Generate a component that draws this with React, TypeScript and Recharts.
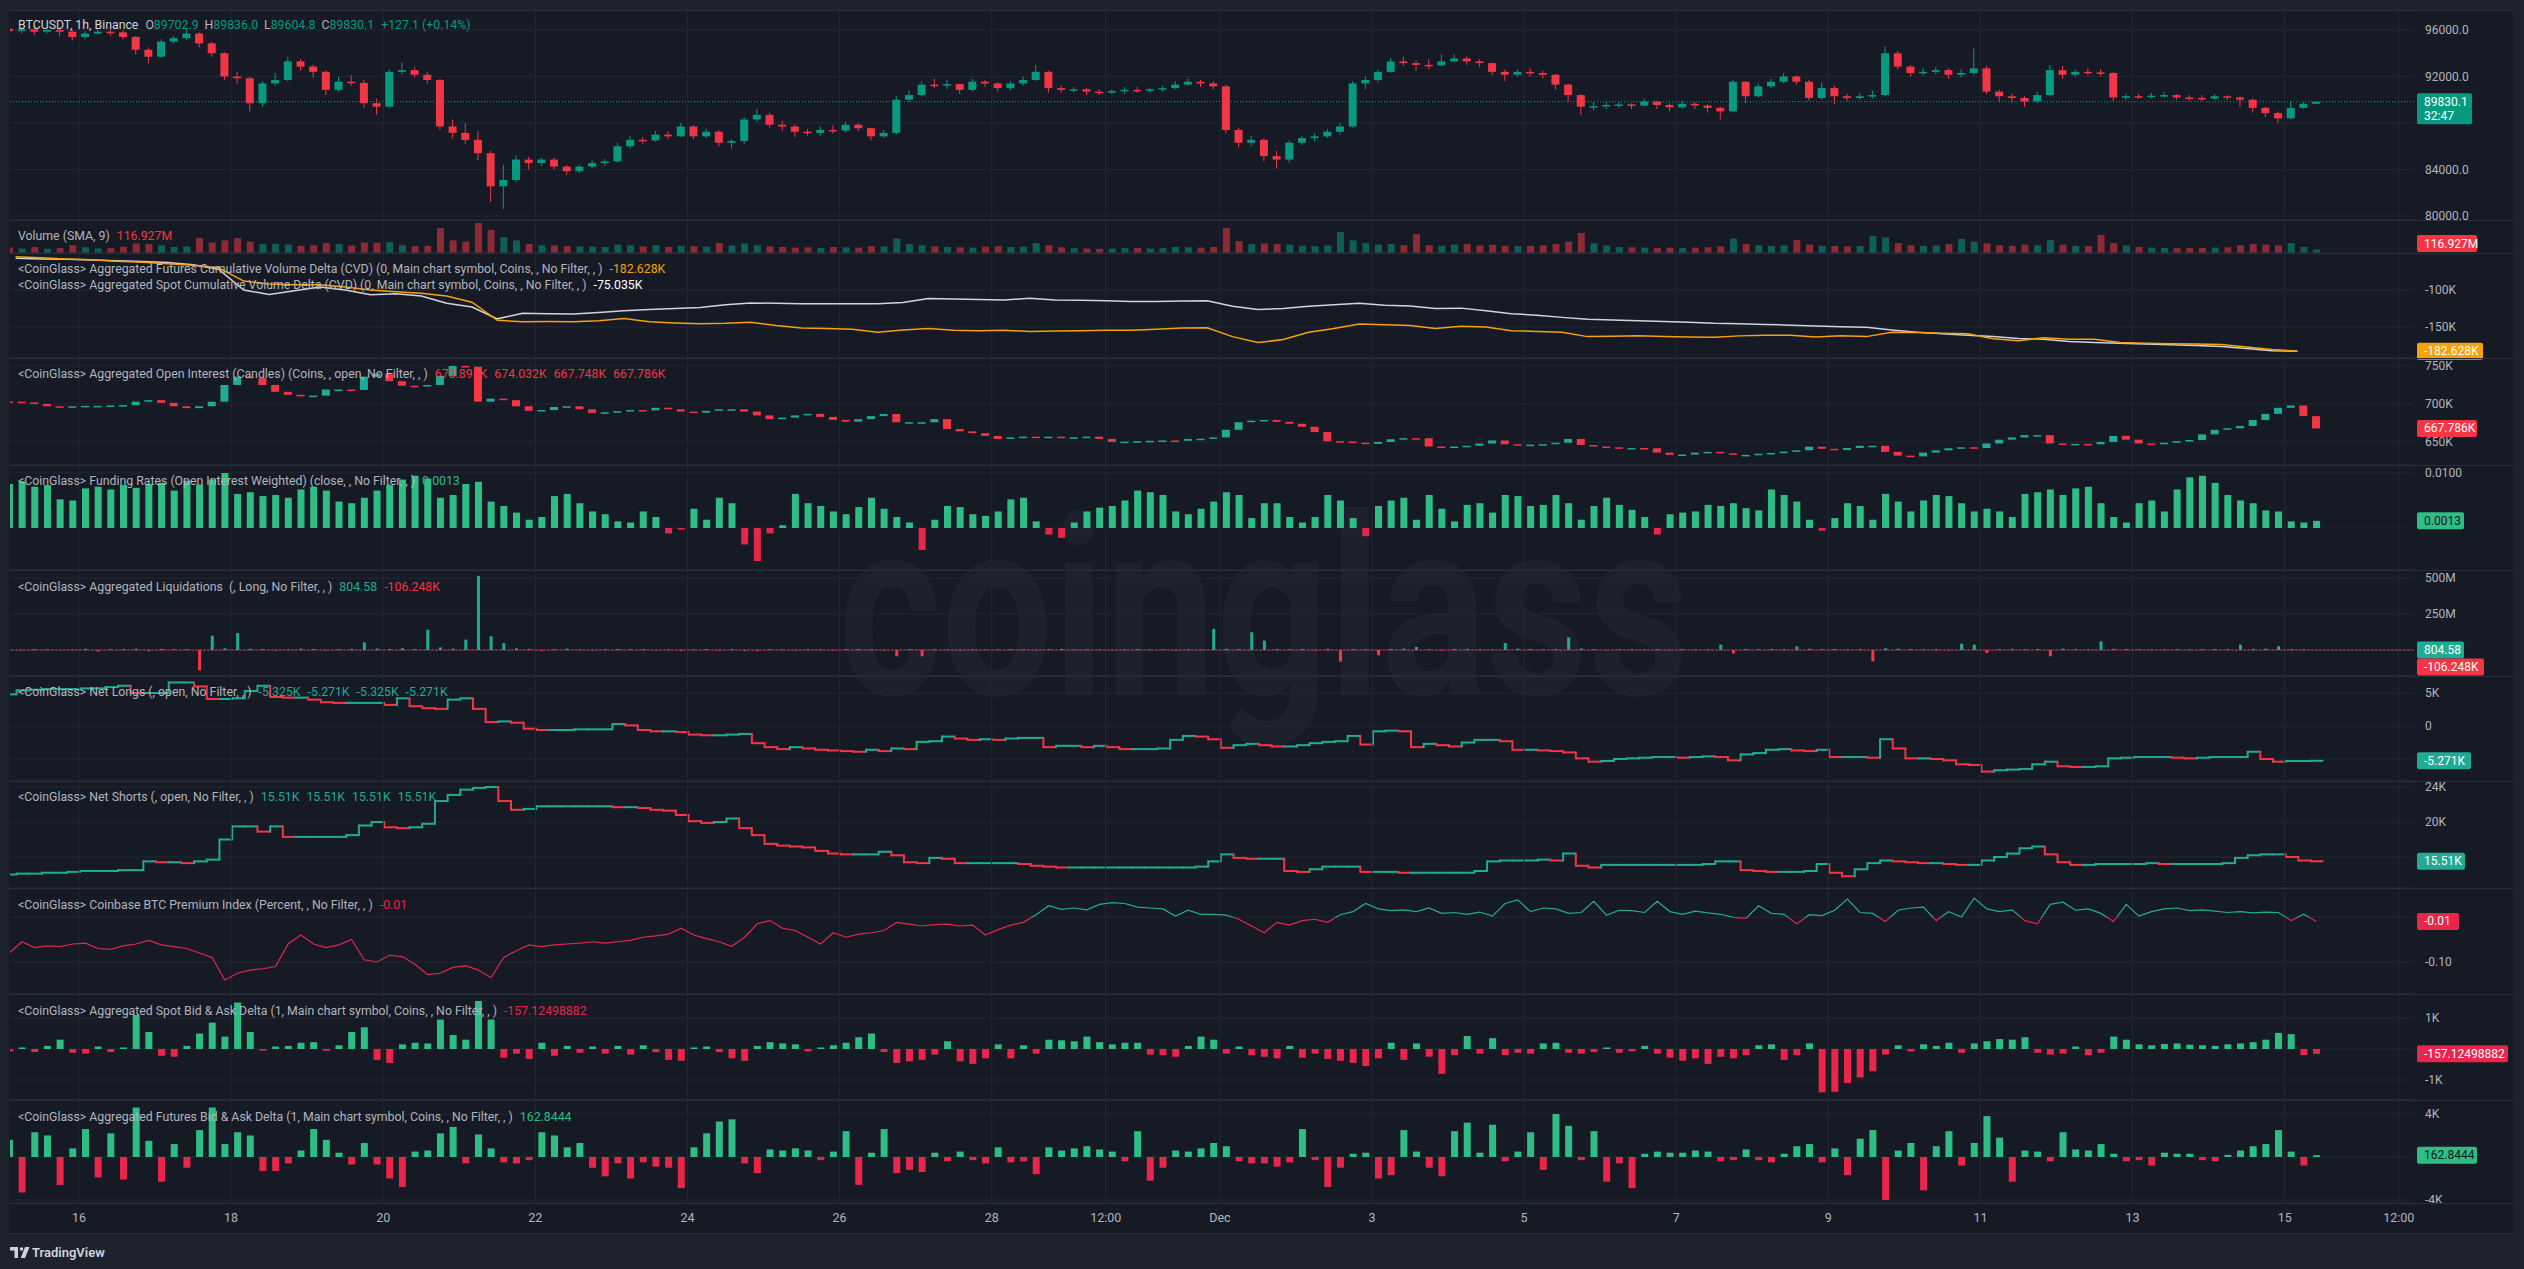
import React from 'react';
import { ComposedChart, Bar, Line, XAxis, YAxis, CartesianGrid, ReferenceLine, Cell } from 'recharts';

const FONT = "Roboto, 'Liberation Sans', Arial, sans-serif";
const BG = '#161a25';
const FRAME = '#1e222d';
const GRID = '#232733';
const SEP = '#2a2e39';
const TEXT = '#b2b5be';
const UP = '#089981';
const DOWN = '#f23645';
const BAR_UP = '#2ebd85';
const BAR_DOWN = '#e8254a';
const STEP_UP = '#22ab94';
const CVD_ORANGE = '#f7a10c';

const CHART_W = 2513;
const PLOT_L = 10;
const AXIS_W = 99;
const X_DOMAIN = [2.23, 760.8];

// hours since Nov 15 00:00
const DAY_TICKS = [24, 72, 120, 168, 216, 264, 312, 348, 384, 432, 480, 528, 576, 624, 672, 720, 756];
const DAY_LABELS = ['16', '18', '20', '22', '24', '26', '28', '12:00', 'Dec', '3', '5', '7', '9', '11', '13', '15', '12:00'];

// 4h buckets
const PRICE_FIRST_OPEN = 96100;
const priceClose = [
  95900, 96050, 95850, 96000, 95850, 95400, 95700, 95850, 95800, 95400,
  94300, 93700, 95000, 95300, 95700, 94850, 94000, 92000, 91850, 89700,
  91400, 91700, 93300, 92850, 92400, 90850, 91550, 91450, 89700, 89400,
  92400, 92550, 92150, 91700, 87700, 87150, 86550, 85400, 82550, 83100,
  84850, 84550, 84850, 84250, 83850, 84250, 84550, 84700, 86000, 86550,
  86500, 87000, 86850, 87700, 86850, 87250, 86300, 86450, 88300, 88700,
  87850, 87700, 87250, 87150, 87400, 87350, 87850, 87550, 86850, 87150,
  90000, 90400, 91300, 91250, 91350, 90850, 91550, 91400, 91000, 91400,
  91700, 92400, 91000, 90850, 90900, 90700, 90650, 90750, 90850, 90800,
  90900, 91000, 91300, 91550, 91400, 91150, 87400, 86300, 86550, 85150,
  84850, 86300, 86700, 86850, 87250, 87700, 91400, 91700, 92400, 93300,
  93150, 93000, 92950, 93300, 93550, 93300, 93150, 92400, 92150, 92400,
  92300, 92150, 91300, 90400, 89400, 89450, 89550, 89600, 89500, 89850,
  89550, 89350, 89650, 89500, 89300, 89000, 91550, 90300, 91150, 91550,
  92000, 91550, 90150, 91000, 90300, 90150, 90300, 90400, 94000, 92850,
  92300, 92400, 92550, 92150, 92300, 92700, 90700, 90300, 90150, 89850,
  90400, 92550, 92150, 92400, 92350, 92300, 90200, 90300, 90250, 90350,
  90400, 90200, 90150, 90100, 90300, 90200, 90000, 89300, 88850, 88400,
  89300, 89650, 89830.1,
];
const priceHigh = [
  96300, 96250, 96200, 96250, 96150, 96000, 95900, 96050, 96100, 96000,
  95500, 94500, 95200, 95500, 96100, 95800, 95000, 94100, 92400, 92000,
  91600, 92300, 93700, 93500, 93000, 92500, 92000, 92100, 91700, 90100,
  92600, 93200, 92800, 92400, 91800, 88300, 88000, 87300, 85600, 84400,
  85200, 85100, 85000, 85000, 84400, 84400, 84800, 84900, 86300, 86900,
  86800, 87300, 87300, 88000, 87800, 87500, 87400, 86600, 88500, 89200,
  88900, 88200, 87900, 87500, 87700, 87800, 88100, 88000, 87600, 87400,
  90300, 90800, 91600, 91800, 91700, 91400, 91800, 91700, 91500, 91600,
  92000, 93000, 92500, 91200, 91100, 91000, 90900, 90900, 91100, 91100,
  91000, 91200, 91600, 91800, 91700, 91600, 91300, 87600, 86900, 86700,
  85600, 86500, 86900, 87100, 87500, 88000, 91600, 92000, 92600, 93600,
  93700, 93400, 93500, 93900, 93900, 93700, 93500, 93200, 92600, 92600,
  92700, 92500, 92200, 91400, 90500, 89800, 89800, 89800, 89700, 90100,
  89900, 89700, 89900, 89800, 89600, 89400, 91700, 91600, 91400, 91800,
  92300, 92100, 91700, 91500, 91200, 90500, 90600, 90800, 94600, 94200,
  93000, 92700, 92800, 92700, 92600, 94400, 92900, 90900, 90500, 90300,
  90700, 93000, 92900, 92600, 92700, 92600, 92400, 90500, 90500, 90600,
  90700, 90500, 90400, 90400, 90500, 90400, 90300, 90100, 89400, 89000,
  89900, 89800, 89836,
];
const priceLow = [
  95600, 95700, 95550, 95700, 95450, 95100, 95200, 95600, 95500, 95200,
  93900, 93100, 93600, 94800, 95100, 94500, 93700, 91700, 91400, 89000,
  89400, 91200, 91600, 92500, 91900, 90400, 90700, 91200, 89300, 88700,
  89300, 92200, 91900, 91400, 87400, 86700, 86200, 84800, 81200, 80600,
  82900, 84000, 84300, 84000, 83500, 83700, 84100, 84300, 84600, 85800,
  86200, 86400, 86600, 86800, 86600, 86700, 86000, 85800, 86200, 88100,
  87600, 87300, 86800, 86900, 86900, 87100, 87200, 87300, 86500, 86700,
  87000, 89800, 90300, 91000, 90900, 90500, 90700, 91100, 90700, 90800,
  91200, 91600, 90600, 90600, 90600, 90400, 90400, 90500, 90500, 90600,
  90600, 90700, 90900, 91200, 91100, 90900, 87100, 85900, 86000, 84700,
  84100, 84600, 86100, 86400, 86700, 87000, 87600, 90900, 91500, 92300,
  92900, 92500, 92600, 92900, 93200, 93000, 92800, 92100, 91600, 92000,
  92000, 91800, 90900, 89800, 88700, 89100, 89200, 89300, 89200, 89400,
  89200, 89000, 89200, 89200, 88900, 88300, 88900, 89700, 90200, 91000,
  91400, 91300, 89900, 90000, 89600, 89900, 90000, 90100, 90300, 92600,
  92000, 92100, 92200, 91800, 91900, 92100, 90500, 89800, 89700, 89400,
  89700, 90300, 91800, 92000, 92100, 92000, 89900, 90000, 90100, 90100,
  90200, 90000, 89900, 89900, 90000, 90000, 89400, 88900, 88500, 88000,
  88300, 89200, 89604.8,
];
// volume, millions
const volume = [
  180, 150, 200, 140, 170, 260, 190, 150, 160, 210,
  320, 300, 260, 200, 220, 500, 350, 420, 500, 380,
  300, 310, 280, 240, 260, 330, 300, 250, 350, 340,
  360, 260, 230, 240, 830, 420, 380, 1000, 770, 530,
  420, 300, 260, 250, 230, 220, 210, 200, 280, 260,
  220, 260, 200, 240, 230, 210, 330, 250, 320, 260,
  220, 200, 180, 190, 170, 200, 190, 180, 230, 220,
  480, 300, 260, 220, 200, 190, 180, 210, 230, 200,
  210, 330, 260, 190, 160, 150, 140, 150, 160, 170,
  150, 160, 200, 190, 180, 200, 830, 400, 300, 320,
  300, 280, 240, 230, 250, 700, 420, 330, 280, 300,
  260, 630, 260, 240, 280, 300, 250, 270, 240, 230,
  240, 260, 300, 380, 670, 320, 250, 200, 190, 180,
  170, 180, 170, 180, 190, 220, 480, 300, 260, 240,
  250, 430, 280, 240, 230, 220, 230, 570, 520, 330,
  260, 240, 250, 300, 470, 380, 320, 260, 240, 280,
  260, 430, 280, 240, 230, 600, 330, 250, 200, 180,
  170, 160, 160, 170, 180, 190, 260, 300, 280, 250,
  330, 200, 116.927,
];
// 8h steps, K
const cvdFutures = [
  -55, -56.5, -58, -59, -61, -62.5, -64.5, -66.5, -70, -88,
  -92, -93, -93, -96, -100, -102.5, -104.5, -108, -116.5, -141,
  -142.8, -142.5, -142.8, -141.5, -138.5, -143, -144.5, -145.5, -145, -143.5,
  -148, -151.5, -152, -153, -157, -154, -152, -154.5, -155, -154.5,
  -156, -155.5, -155, -154.5, -154.5, -153, -151.5, -151, -163, -171,
  -167, -157, -152, -146, -147, -148, -152, -149, -150, -155,
  -156, -157, -163, -162.5, -162, -163, -163.5, -164, -162, -161,
  -161, -163.5, -162, -163, -157, -157.5, -158.5, -159, -166, -168.5,
  -164.5, -166.5, -166.5, -171, -172, -172.5, -173, -173.5, -177, -180.5,
  -182.628,
];
const cvdSpot = [
  50.4, 49.6, 49.1, 48.1, 47.1, 46.1, 44.6, 41.6, 35.6, 7.6,
  1.6, 6.6, 11.6, 7.6, 1.1, 2.6, -0.4, -10.4, -15.4, -31.4,
  -23.9, -24.4, -24.9, -22.9, -20.4, -18.9, -17.4, -15.9, -12.4, -9.9,
  -10.4, -10.9, -10.9, -10.9, -10.9, -9.4, -3.9, -4.4, -5.4, -5.9,
  -3.4, -5.9, -6.4, -6.9, -7.9, -7.9, -7.4, -6.9, -14.4, -18.9,
  -17.4, -14.4, -12.4, -10.4, -12.9, -13.9, -17.4, -16.9, -20.4, -24.4,
  -26.4, -29.4, -31.9, -32.9, -33.9, -34.9, -35.9, -37.4, -37.9, -38.9,
  -39.9, -40.9, -41.9, -42.9, -46.4, -49.4, -51.4, -53.4, -55.4, -57.9,
  -58.9, -61.9, -63.4, -64.4, -65.4, -66.4, -67.4, -68.9, -71.4, -74.4,
  -75.035,
];
// open interest, K
const OI_FIRST_OPEN = 703.5;
const oiClose = [
  703, 702, 700, 697, 696.5, 697, 697.5, 697.5, 698, 698.5,
  703, 705, 701.5, 697, 694.5, 697, 703, 725, 736, 734,
  725, 716, 712, 710, 711, 719, 719, 718.5, 736, 740,
  730, 724, 723, 725, 737, 750, 749, 703, 707, 705,
  697, 691, 692, 696, 697, 693, 688, 689, 690.5, 692,
  691.5, 695, 693, 690, 688.5, 691, 693, 693, 690, 685,
  680, 682, 685, 687, 683, 679, 676.7, 680, 684, 686.8,
  676, 676, 676, 680, 667, 664, 661.5, 658, 654, 656,
  657, 656, 657, 655, 656, 657, 654, 650, 650.4, 651,
  651.5, 652, 651.5, 654, 654.3, 656, 666, 676, 678, 679,
  676.5, 674, 670, 663, 651, 650.5, 649, 647.5, 650, 653.6,
  655, 654.9, 644, 643.8, 644, 645, 648, 652, 647, 646,
  646.5, 647, 649, 654, 646, 644, 643, 642, 642, 641.7,
  636, 633, 633.5, 636, 637, 635, 633, 633, 634.5, 635.5,
  637.3, 639, 643.8, 641, 639.5, 642, 645, 645, 637, 632,
  631, 636, 639, 641.7, 643, 642, 648, 653, 656, 659,
  659, 648, 647, 647.5, 647, 650, 658, 653, 648, 647,
  649, 651, 652.6, 660, 666, 668, 671, 679, 687, 695,
  698, 684, 667.786,
];
const funding = [
  0.0080, 0.0085, 0.0075, 0.0078, 0.0052, 0.0050, 0.0072, 0.0075, 0.0070, 0.0078,
  0.0073, 0.0080, 0.0082, 0.0068, 0.0086, 0.0079, 0.0088, 0.0100, 0.0062, 0.0065,
  0.0058, 0.0060, 0.0055, 0.0070, 0.0075, 0.0068, 0.0048, 0.0045, 0.0055, 0.0068,
  0.0078, 0.0088, 0.0095, 0.0090, 0.0055, 0.0060, 0.0080, 0.0084, 0.0048, 0.0040,
  0.0028, 0.0015, 0.0020, 0.0058, 0.0062, 0.0045, 0.0030, 0.0025, 0.0012, 0.0010,
  0.0030, 0.0020, -0.0010, -0.0003, 0.0035, 0.0015, 0.0055, 0.0045, -0.0030, -0.0060,
  -0.0010, 0.0005, 0.0062, 0.0045, 0.0040, 0.0030, 0.0025, 0.0038, 0.0055, 0.0035,
  0.0020, 0.0010, -0.0040, 0.0015, 0.0040, 0.0038, 0.0025, 0.0022, 0.0030, 0.0052,
  0.0055, 0.0012, -0.0012, -0.0018, 0.0010, 0.0030, 0.0037, 0.0040, 0.0050, 0.0068,
  0.0065, 0.0060, 0.0030, 0.0025, 0.0035, 0.0048, 0.0065, 0.0060, 0.0018, 0.0045,
  0.0045, 0.0020, 0.0010, 0.0020, 0.0060, 0.0050, 0.0018, -0.0015, 0.0040, 0.0050,
  0.0055, 0.0015, 0.0060, 0.0035, 0.0012, 0.0042, 0.0045, 0.0028, 0.0060, 0.0058,
  0.0040, 0.0042, 0.0060, 0.0045, 0.0015, 0.0040, 0.0055, 0.0042, 0.0033, 0.0020,
  -0.0012, 0.0025, 0.0028, 0.0030, 0.0042, 0.0040, 0.0045, 0.0036, 0.0032, 0.0070,
  0.0060, 0.0048, 0.0015, -0.0005, 0.0018, 0.0045, 0.0040, 0.0015, 0.0062, 0.0048,
  0.0030, 0.0050, 0.0060, 0.0058, 0.0045, 0.0030, 0.0035, 0.0030, 0.0020, 0.0062,
  0.0065, 0.0070, 0.0060, 0.0072, 0.0075, 0.0045, 0.0020, 0.0010, 0.0045, 0.0050,
  0.0030, 0.0070, 0.0092, 0.0095, 0.0082, 0.0060, 0.0050, 0.0045, 0.0032, 0.0030,
  0.0012, 0.0010, 0.0013,
];
// liquidations, millions (long +, short -)
const liquidations = [
  4, -3, 6, 5, -2, 3, 8, -10, 5, 6,
  9, -9, 7, 5, 6, -142, 100, 12, 118, 8,
  6, -4, 5, 9, 7, -3, 6, 8, 53, 10,
  7, 12, 6, 141, 18, 9, 72, 515, 95, 48,
  12, 8, -6, 5, 9, 4, -5, 6, 7, 5,
  6, -4, 5, -6, 4, 7, -5, 6, -8, -7,
  5, 4, -3, 6, 5, -4, 6, 7, 5, -5,
  -44, 6, -44, 5, 4, -6, 5, 3, 4, 6,
  5, -4, 6, 7, 4, 5, 3, -4, 5, 6,
  4, 5, -5, 6, 4, 146, 8, 6, 123, 65,
  7, 5, 6, -4, 8, -81, 6, 5, -37, 7,
  9, 21, 6, -5, 7, 8, 6, 5, 48, 9,
  6, 5, 7, 88, 10, 6, -4, 5, 6, 4,
  5, -3, 6, 4, 5, 37, -25, 6, 5, 7,
  6, 26, 8, 5, 7, 4, 6, -79, 12, 9,
  6, 5, 7, -6, 44, 37, -21, 6, 8, 5,
  7, -44, 9, 6, 5, 60, 8, 6, 5, 4,
  5, 6, 4, 5, 7, 6, 37, 8, 9, 26,
  6, 5, 0.0008,
];
const netLongs = [
  4.8, 5.4, 5.5, 5.6, 5.6, 5.6, 5.7, 5.7, 5.9, 6.1,
  5.0, 5.0, 5.0, 6.6, 6.6, 6.0, 4.1, 4.1, 4.2, 5.3,
  6.1, 4.4, 4.3, 4.3, 4.0, 3.6, 3.5, 3.5, 3.5, 3.5,
  3.2, 4.2, 3.0, 2.7, 2.6, 4.0, 4.2, 2.6, 0.6, 0.7,
  0.5, -0.4, -0.6, -0.6, -0.6, -0.5, -0.5, -0.5, 0.3, 0.1,
  -0.6, -0.8, -0.8, -0.9, -1.3, -1.4, -1.4, -1.3, -1.2, -2.6,
  -3.2, -3.5, -3.2, -3.4, -3.6, -3.7, -3.8, -3.9, -3.6, -3.8,
  -3.4, -3.5, -2.4, -2.3, -1.6, -1.9, -2.1, -2.0, -2.1, -1.9,
  -1.8, -1.8, -3.2, -3.0, -3.0, -3.2, -3.0, -3.2, -3.5, -3.5,
  -3.5, -3.4, -2.1, -1.5, -1.6, -2.0, -3.3, -2.9, -2.7, -2.9,
  -3.1, -3.1, -2.9, -2.6, -2.4, -2.3, -1.5, -2.8, -0.8, -0.7,
  -0.8, -3.2, -2.7, -2.9, -3.1, -2.5, -2.1, -2.1, -2.3, -3.6,
  -3.6, -3.7, -3.8, -4.0, -4.9, -5.4, -5.3, -5.0, -4.9, -4.8,
  -4.7, -4.7, -4.8, -4.7, -4.6, -4.7, -5.2, -4.3, -4.1, -3.6,
  -3.5, -3.7, -3.8, -3.6, -4.7, -4.7, -4.7, -4.8, -2.0, -3.4,
  -4.9, -4.9, -5.0, -5.2, -5.8, -5.9, -6.9, -6.7, -6.6, -6.5,
  -5.8, -5.4, -6.1, -6.2, -6.2, -6.1, -4.9, -4.8, -4.7, -4.7,
  -4.7, -4.8, -4.9, -4.8, -4.7, -4.7, -4.7, -3.9, -5.0, -5.4,
  -5.3, -5.3, -5.271,
];
const netShorts = [
  14.0, 14.1, 14.1, 14.2, 14.2, 14.3, 14.4, 14.4, 14.4, 14.5,
  14.5, 15.5, 15.4, 15.4, 15.3, 15.5, 15.7, 18.0, 19.5, 19.5,
  18.9, 19.5, 18.3, 18.3, 18.3, 18.3, 18.3, 18.5, 19.6, 20.0,
  19.4, 19.3, 19.4, 19.8, 22.4, 23.1, 23.7, 23.9, 24.0, 22.4,
  21.4, 21.5, 21.8, 21.8, 21.8, 21.8, 21.8, 21.8, 21.7, 21.7,
  21.6, 21.4, 21.3, 20.8, 20.1, 19.9, 20.0, 20.4, 19.3, 18.5,
  17.5, 17.3, 17.2, 17.1, 16.7, 16.4, 16.3, 16.3, 16.3, 16.6,
  16.2, 15.4, 15.3, 15.9, 15.8, 15.3, 15.3, 15.3, 15.3, 15.3,
  15.2, 15.0, 14.9, 14.8, 14.8, 14.8, 14.8, 14.8, 14.8, 14.8,
  14.8, 14.8, 14.8, 14.8, 14.9, 15.5, 16.3, 15.9, 15.8, 15.8,
  15.8, 14.4, 14.3, 14.6, 14.9, 14.9, 14.9, 14.3, 14.3, 14.3,
  14.2, 14.2, 14.2, 14.2, 14.2, 14.2, 14.4, 15.5, 15.6, 15.6,
  15.6, 15.7, 15.6, 16.4, 15.0, 14.8, 15.1, 15.1, 15.1, 15.1,
  15.1, 15.1, 15.1, 15.1, 15.2, 15.5, 15.5, 14.5, 14.4, 14.3,
  14.3, 14.3, 14.4, 15.2, 14.2, 13.8, 14.6, 15.3, 15.6, 15.5,
  15.4, 15.3, 15.3, 15.2, 15.1, 15.1, 15.6, 16.0, 16.4, 17.0,
  17.2, 16.3, 15.4, 15.1, 15.1, 15.2, 15.2, 15.2, 15.2, 15.3,
  15.2, 15.2, 15.2, 15.2, 15.2, 15.3, 15.9, 16.2, 16.3, 16.3,
  16.0, 15.6, 15.51,
];
const premium = [
  -0.080, -0.055, -0.068, -0.064, -0.066, -0.060, -0.058, -0.070, -0.072, -0.064,
  -0.060, -0.052, -0.062, -0.066, -0.070, -0.080, -0.090, -0.140, -0.125, -0.118,
  -0.115, -0.110, -0.060, -0.040, -0.060, -0.068, -0.062, -0.050, -0.095, -0.100,
  -0.085, -0.088, -0.105, -0.128, -0.125, -0.112, -0.108, -0.118, -0.135, -0.090,
  -0.075, -0.062, -0.066, -0.062, -0.060, -0.058, -0.055, -0.058, -0.055, -0.052,
  -0.045, -0.042, -0.038, -0.025, -0.040, -0.048, -0.055, -0.065, -0.045, -0.015,
  -0.008, -0.025, -0.030, -0.045, -0.060, -0.035, -0.045, -0.038, -0.035, -0.030,
  -0.012, -0.016, -0.020, -0.017, -0.016, -0.020, -0.018, -0.040, -0.028, -0.018,
  -0.012, 0.005, 0.025, 0.017, 0.020, 0.016, 0.028, 0.032, 0.030, 0.022,
  0.020, 0.018, 0.002, 0.015, 0.006, 0.006, 0.004, -0.005, -0.020, -0.035,
  -0.012, -0.018, -0.008, -0.005, -0.012, 0.005, 0.012, 0.030, 0.018, 0.014,
  0.016, 0.012, 0.020, 0.008, 0.010, 0.006, 0.011, 0.002, 0.030, 0.038,
  0.012, 0.020, 0.018, 0.008, 0.010, 0.035, 0.004, 0.015, 0.014, 0.010,
  0.035, 0.012, 0.006, 0.013, 0.009, 0.006, -0.001, -0.003, 0.025, 0.008,
  0.006, -0.015, 0.005, 0.003, 0.015, 0.040, 0.010, 0.008, -0.010, 0.015,
  0.020, 0.022, -0.008, 0.012, 0.000, 0.042, 0.018, 0.012, 0.016, -0.008,
  -0.015, 0.028, 0.033, 0.015, 0.018, 0.008, -0.010, 0.028, 0.002, 0.012,
  0.018, 0.020, 0.014, 0.016, 0.013, 0.010, 0.012, 0.009, 0.011, 0.010,
  -0.008, 0.006, -0.010,
];
// K
const spotDelta = [
  -0.08, 0.05, -0.10, 0.10, 0.30, -0.12, -0.15, 0.08, -0.10, 0.05,
  1.10, 0.55, -0.22, -0.25, 0.10, 0.50, 0.85, 0.40, 1.50, 0.55,
  -0.05, 0.08, 0.10, 0.20, 0.22, -0.06, 0.12, 0.55, 0.70, -0.35,
  -0.45, 0.15, 0.20, 0.18, 0.95, 0.45, 0.30, 1.55, 0.95, -0.28,
  -0.15, -0.32, 0.20, -0.22, 0.10, -0.12, 0.08, -0.15, 0.10, -0.18,
  0.12, -0.10, -0.35, -0.38, 0.05, 0.08, -0.10, -0.30, -0.38, 0.10,
  0.22, 0.18, 0.15, -0.08, 0.05, 0.12, 0.20, 0.38, 0.50, -0.10,
  -0.45, -0.40, -0.35, -0.18, 0.25, -0.40, -0.48, -0.30, 0.15, -0.30,
  0.12, -0.15, 0.30, 0.28, 0.25, 0.40, 0.22, 0.15, 0.20, 0.20,
  -0.18, -0.20, -0.25, 0.10, 0.40, 0.30, -0.15, 0.08, -0.20, -0.25,
  -0.30, 0.10, -0.28, -0.15, -0.32, -0.38, -0.45, -0.55, -0.30, 0.20,
  -0.35, 0.18, -0.25, -0.80, -0.20, 0.42, -0.15, 0.35, -0.20, -0.12,
  -0.15, 0.18, 0.20, -0.12, -0.15, -0.10, 0.05, -0.12, -0.08, 0.10,
  -0.15, -0.28, -0.38, -0.30, -0.48, -0.25, -0.30, -0.20, 0.12, 0.15,
  -0.35, -0.20, 0.18, -1.40, -1.38, -1.10, -0.92, -0.72, -0.18, 0.12,
  -0.08, 0.15, 0.10, 0.20, -0.12, 0.18, 0.25, 0.32, 0.30, 0.38,
  -0.12, -0.18, -0.15, 0.08, -0.20, -0.12, 0.40, 0.30, 0.15, 0.12,
  0.16, 0.18, 0.14, 0.12, 0.10, 0.15, 0.18, 0.22, 0.30, 0.52,
  0.48, -0.20, -0.157,
];
const futuresDelta = [
  1.6, -3.3, 2.3, 2.0, -2.6, 0.8, 2.6, -1.9, 2.2, -2.1,
  4.6, 1.5, -2.3, 1.2, -1.0, 2.5, 4.6, 1.2, 2.3, 2.0,
  -1.3, -1.3, -0.6, 0.6, 2.6, 1.6, 0.4, -0.7, 1.3, -0.7,
  -2.0, -2.8, 0.5, 0.6, 2.2, 2.8, -0.6, 2.1, 0.8, -0.5,
  -0.6, -0.3, 2.3, 2.0, 0.9, 1.3, -1.0, -1.8, -0.6, -2.0,
  -0.5, -0.9, -1.0, -2.9, 0.9, 2.2, 3.3, 3.5, -0.6, -1.5,
  0.7, 0.6, 0.8, 0.6, -0.3, 0.5, 2.4, -2.6, 0.4, 2.6,
  -1.5, -1.2, -1.4, 0.4, -0.4, 0.5, -0.3, -0.6, 0.9, -0.5,
  -0.4, -1.6, 0.9, 0.6, 0.8, 1.0, 0.7, 0.5, -0.4, 2.4,
  -2.2, -1.0, 0.6, 0.5, 0.8, 1.3, 1.0, -0.4, -0.6, -0.6,
  -0.9, -0.5, 2.6, -0.3, -2.8, -1.0, 0.3, 0.4, -2.0, -1.7,
  2.5, 0.5, -1.0, -1.8, 2.4, 3.2, 0.4, 3.0, -0.4, 0.5,
  2.3, -1.2, 4.0, 2.9, -0.3, 2.4, -2.3, -0.6, -2.9, 0.3,
  0.5, 0.4, 0.4, 0.6, 0.5, -0.4, -0.3, 0.7, -0.3, -0.5,
  0.3, 1.0, 1.2, -0.5, 0.8, -1.7, 1.7, 2.5, -4.0, 0.6,
  1.3, -3.1, 1.0, 2.4, -0.8, 1.3, 3.8, 1.8, -2.3, 0.6,
  0.5, -0.4, 2.3, 0.7, 0.6, 1.2, 0.3, -0.4, -0.3, -0.8,
  0.4, 0.3, 0.3, -0.3, -0.4, 0.2, 0.6, 1.0, 1.2, 2.5,
  0.5, -0.8, 0.163,
];

const t4 = (i: number) => i * 4 + 2;
const t8 = (i: number) => i * 8 + 4;

const priceRows = priceClose.map((c, i) => ({
  t: t4(i), o: i ? priceClose[i - 1] : PRICE_FIRST_OPEN, c, h: priceHigh[i], l: priceLow[i],
}));
const volumeRows = volume.map((v, i) => ({ t: t4(i), v, up: priceRows[i].c >= priceRows[i].o }));
const cvdRows = cvdFutures.map((f, i) => ({ t: t8(i), f, s: cvdSpot[i] }));
const oiRows = oiClose.map((c, i) => {
  const o = i ? oiClose[i - 1] : OI_FIRST_OPEN;
  return { t: t4(i), o, c, h: Math.max(o, c), l: Math.min(o, c) };
});
const stepRows = (arr: number[]) => arr.map((c, i) => {
  const o = i ? arr[i - 1] : c;
  return { t: t4(i), o, c, lo: Math.min(o, c), hi: Math.max(o, c) };
});
const fundingRows = funding.map((v, i) => ({ t: t4(i), v }));
const liqRows = liquidations.map((v, i) => ({ t: t4(i), v }));
const longRows = stepRows(netLongs);
const shortRows = stepRows(netShorts);
const premiumRows = premium.map((v, i) => ({ t: t4(i), v }));
const spotRows = spotDelta.map((v, i) => ({ t: t4(i), v }));
const futRows = futuresDelta.map((v, i) => ({ t: t4(i), v }));

const PREM_DOMAIN = [-0.1711, 0.0644];
const PREM_H = 106;
const PREM_ZERO = PREM_DOMAIN[1] / (PREM_DOMAIN[1] - PREM_DOMAIN[0]);

const TICK = { fill: TEXT, fontSize: 12, fontFamily: FONT };

const yProps = (domain: number[], ticks: number[], fmt: (v: number) => string) => ({
  orientation: 'right' as const,
  width: AXIS_W,
  domain,
  ticks,
  interval: 0 as const,
  allowDataOverflow: true,
  tickFormatter: fmt,
  axisLine: false,
  tickLine: false,
  tickMargin: 5,
  tick: TICK,
});

const vGrid = (yId: any = 0) =>
  DAY_TICKS.map((t) => <ReferenceLine key={'g' + t} x={t} yAxisId={yId} stroke={GRID} ifOverflow="visible" />);

const hiddenX = <XAxis type="number" dataKey="t" domain={X_DOMAIN} allowDataOverflow hide />;

function valueBox(text: string, bg: string, w: number, opts: { fg?: string; dy?: number; maxY?: number; sub?: string } = {}) {
  return (props: any) => {
    const vb = props.viewBox || {};
    const x = (vb.x ?? 0) + (vb.width ?? 0) + 3;
    let cy = (vb.y ?? 0) + (opts.dy ?? 0);
    if (opts.maxY !== undefined) cy = Math.min(cy, opts.maxY);
    const h = opts.sub ? 31 : 17;
    const top = cy - 8.5;
    return (
      <g>
        <rect x={x} y={top} width={w} height={h} rx={2} fill={bg} />
        <text x={x + 7} y={top + 12.5} fill={opts.fg ?? '#ffffff'} fontSize={12} fontFamily={FONT}>{text}</text>
        {opts.sub && (
          <text x={x + 7} y={top + 27} fill={opts.fg ?? '#ffffff'} fontSize={12} fontFamily={FONT}>{opts.sub}</text>
        )}
      </g>
    );
  };
}

function Candle(p: any) {
  const { x, y, width, height, payload } = p;
  const top = Math.min(y, y + height);
  const span = Math.abs(height);
  const { o, c, h, l } = payload;
  const color = c >= o ? p.upColor : p.downColor;
  const k = h > l ? span / (h - l) : 0;
  const bt = top + (h - Math.max(o, c)) * k;
  const bb = top + (h - Math.min(o, c)) * k;
  const cx = x + width / 2;
  return (
    <g>
      {p.wick && <line x1={cx} x2={cx} y1={top} y2={top + span} stroke={color} strokeWidth={1} />}
      <rect x={x} y={bt} width={width} height={Math.max(1.5, bb - bt)} fill={color} />
    </g>
  );
}

function Step(p: any) {
  const { x, y, width, height, payload } = p;
  const top = Math.min(y, y + height);
  const bottom = top + Math.abs(height);
  const up = payload.c >= payload.o;
  const color = up ? STEP_UP : DOWN;
  const yc = up ? top : bottom;
  return (
    <g>
      <line x1={x} x2={x} y1={top - 1} y2={bottom + 1} stroke={color} strokeWidth={2} />
      <line x1={x} x2={x + width + 1} y1={yc} y2={yc} stroke={color} strokeWidth={2} />
    </g>
  );
}

function Legend({ top, children }: any) {
  return (
    <div style={{ position: 'absolute', left: 18, top, fontSize: 12.3, lineHeight: '16px', color: TEXT, whiteSpace: 'nowrap', pointerEvents: 'none', fontFamily: FONT }}>
      {children}
    </div>
  );
}

const Val = ({ c, children }: any) => <span style={{ color: c, marginLeft: 7 }}>{children}</span>;

function Pane({ top, height, children }: any) {
  return <div style={{ position: 'absolute', left: 0, top, width: CHART_W, height }}>{children}</div>;
}

const SEPARATORS = [10, 220, 253, 358, 465, 570, 676, 781, 888, 994, 1100, 1203, 1233];
// tick labels left blank where the current value badge sits on them
const hideAt = (hidden: number[], fmt: (v: number) => string) => (v: number) => (hidden.includes(v) ? '' : fmt(v));
const fmtK = (v: number) => (v === 0 ? '0' : `${v}K`);

export default function App() {
  return (
    <div style={{ position: 'absolute', left: 0, top: 0, width: 2524, height: 1269, background: FRAME, overflow: 'hidden', fontFamily: FONT }}>
      <style>{'.recharts-surface{overflow:visible}'}</style>
      <div style={{ position: 'absolute', left: 9, top: 10, width: 2504, height: 1223, background: BG }} />
      <svg width={2524} height={1269} style={{ position: 'absolute', left: 0, top: 0 }}>
        <text x={1264} y={695} textAnchor="middle" fontSize={250} fontWeight={700} fontFamily={FONT} fill="#1d212e"
          transform="translate(1264,0) scale(0.79,1) translate(-1264,0)">coinglass</text>
      </svg>

      {/* price */}
      <Pane top={10} height={210}>
        <ComposedChart width={CHART_W} height={210} data={priceRows} margin={{ top: 0, right: 0, bottom: 0, left: PLOT_L }}>
          {hiddenX}
          <YAxis {...yProps([79656, 97720], [80000, 84000, 88000, 92000, 96000], hideAt([88000], (v) => v.toFixed(1)))} />
          <CartesianGrid stroke={GRID} vertical={false} />
          {vGrid()}
          <Bar dataKey={(d: any) => [d.l, d.h]} barSize={8} isAnimationActive={false}
            shape={(p: any) => <Candle {...p} upColor={UP} downColor={DOWN} wick />} />
          <ReferenceLine y={89830.1} stroke={UP} strokeDasharray="1 2" ifOverflow="visible"
            label={valueBox('89830.1', UP, 55, { sub: '32:47' })} />
        </ComposedChart>
        <Legend top={7}>
          <span style={{ color: '#d1d4dc' }}>BTCUSDT, 1h, Binance</span>
          <span style={{ marginLeft: 7 }}>O</span><span style={{ color: UP }}>89702.9</span>
          <span style={{ marginLeft: 6 }}>H</span><span style={{ color: UP }}>89836.0</span>
          <span style={{ marginLeft: 6 }}>L</span><span style={{ color: UP }}>89604.8</span>
          <span style={{ marginLeft: 6 }}>C</span><span style={{ color: UP }}>89830.1</span>
          <Val c={UP}>+127.1 (+0.14%)</Val>
        </Legend>
      </Pane>

      {/* volume */}
      <Pane top={220} height={33}>
        <ComposedChart width={CHART_W} height={33} data={volumeRows} margin={{ top: 0, right: 0, bottom: 0, left: PLOT_L }}>
          {hiddenX}
          <YAxis {...yProps([0, 1100], [], (v) => `${v}M`)} />
          {vGrid()}
          <Bar dataKey="v" barSize={7} isAnimationActive={false}>
            {volumeRows.map((r, i) => (
              <Cell key={i} fill={r.up ? 'rgba(8,153,129,0.55)' : 'rgba(242,54,69,0.55)'} />
            ))}
          </Bar>
          <ReferenceLine y={116.927} stroke="none" ifOverflow="visible" label={valueBox('116.927M', DOWN, 60, { maxY: 23.5 })} />
        </ComposedChart>
        <Legend top={8}>
          <span>Volume (SMA, 9)</span><Val c={DOWN}>116.927M</Val>
        </Legend>
      </Pane>

      {/* cvd */}
      <Pane top={253} height={105}>
        <ComposedChart width={CHART_W} height={105} data={cvdRows} margin={{ top: 0, right: 0, bottom: 0, left: PLOT_L }}>
          {hiddenX}
          <YAxis yAxisId="f" {...yProps([-191.9, -50], [-150, -100], (v) => `${v}K`)} />
          <YAxis yAxisId="s" orientation="right" domain={[-84.3, 57.6]} allowDataOverflow hide />
          <CartesianGrid stroke={GRID} vertical={false} yAxisId="f" />
          {vGrid('f')}
          <Line yAxisId="s" type="linear" dataKey="s" stroke="#d1d4dc" strokeWidth={1.5} dot={false} isAnimationActive={false} />
          <Line yAxisId="f" type="linear" dataKey="f" stroke={CVD_ORANGE} strokeWidth={1.5} dot={false} isAnimationActive={false} />
          <ReferenceLine yAxisId="f" y={-182.628} stroke="none" ifOverflow="visible" label={valueBox('-182.628K', CVD_ORANGE, 66)} />
        </ComposedChart>
        <Legend top={8}>
          <span>&lt;CoinGlass&gt; Aggregated Futures Cumulative Volume Delta (CVD) (0, Main chart symbol, Coins, , No Filter, , )</span>
          <Val c={CVD_ORANGE}>-182.628K</Val>
        </Legend>
        <Legend top={24}>
          <span>&lt;CoinGlass&gt; Aggregated Spot Cumulative Volume Delta (CVD) (0, Main chart symbol, Coins, , No Filter, , )</span>
          <Val c="#ffffff">-75.035K</Val>
        </Legend>
      </Pane>

      {/* open interest */}
      <Pane top={358} height={107}>
        <ComposedChart width={CHART_W} height={107} data={oiRows} margin={{ top: 0, right: 0, bottom: 0, left: PLOT_L }}>
          {hiddenX}
          <YAxis {...yProps([619.7, 760.5], [650, 700, 750], (v) => `${v}K`)} />
          <CartesianGrid stroke={GRID} vertical={false} />
          {vGrid()}
          <Bar dataKey={(d: any) => [d.l, d.h]} barSize={8} isAnimationActive={false}
            shape={(p: any) => <Candle {...p} upColor={STEP_UP} downColor={DOWN} />} />
          <ReferenceLine y={667.786} stroke="none" ifOverflow="visible" label={valueBox('667.786K', DOWN, 60)} />
        </ComposedChart>
        <Legend top={8}>
          <span>&lt;CoinGlass&gt; Aggregated Open Interest (Candles) (Coins, , open, No Filter, , )</span>
          <Val c={DOWN}>673.895K</Val><Val c={DOWN}>674.032K</Val><Val c={DOWN}>667.748K</Val><Val c={DOWN}>667.786K</Val>
        </Legend>
      </Pane>

      {/* funding */}
      <Pane top={465} height={105}>
        <ComposedChart width={CHART_W} height={105} data={fundingRows} margin={{ top: 0, right: 0, bottom: 0, left: PLOT_L }}>
          {hiddenX}
          <YAxis {...yProps([-0.00764, 0.01145], [0, 0.01], hideAt([0], (v) => v.toFixed(4)))} />
          <CartesianGrid stroke={GRID} vertical={false} />
          {vGrid()}
          <Bar dataKey="v" barSize={7} isAnimationActive={false}>
            {fundingRows.map((r, i) => <Cell key={i} fill={r.v >= 0 ? BAR_UP : BAR_DOWN} />)}
          </Bar>
          <ReferenceLine y={0.0013} stroke="none" ifOverflow="visible" label={valueBox('0.0013', BAR_UP, 47, { fg: '#131722' })} />
        </ComposedChart>
        <Legend top={8}>
          <span>&lt;CoinGlass&gt; Funding Rates (Open Interest Weighted) (close, , No Filter, , )</span>
          <Val c={BAR_UP}>0.0013</Val>
        </Legend>
      </Pane>

      {/* liquidations */}
      <Pane top={570} height={106}>
        <ComposedChart width={CHART_W} height={106} data={liqRows} margin={{ top: 0, right: 0, bottom: 0, left: PLOT_L }}>
          {hiddenX}
          <YAxis {...yProps([-180.6, 555.6], [250, 500], (v) => `${v}M`)} />
          <CartesianGrid stroke={GRID} vertical={false} />
          {vGrid()}
          <ReferenceLine y={0} stroke={DOWN} strokeDasharray="3 1" />
          <Bar dataKey="v" barSize={3} isAnimationActive={false}>
            {liqRows.map((r, i) => <Cell key={i} fill={r.v >= 0 ? '#22ab94' : DOWN} />)}
          </Bar>
          <ReferenceLine y={0.0008} stroke="none" ifOverflow="visible" label={valueBox('804.58', '#22ab94', 47)} />
          <ReferenceLine y={-0.106} stroke="none" ifOverflow="visible" label={valueBox('-106.248K', DOWN, 67, { dy: 17 })} />
        </ComposedChart>
        <Legend top={9}>
          <span>&lt;CoinGlass&gt; Aggregated Liquidations&nbsp; (, Long, No Filter, , )</span>
          <Val c="#22ab94">804.58</Val><Val c={DOWN}>-106.248K</Val>
        </Legend>
      </Pane>

      {/* net longs */}
      <Pane top={676} height={105}>
        <ComposedChart width={CHART_W} height={105} data={longRows} margin={{ top: 0, right: 0, bottom: 0, left: PLOT_L }}>
          {hiddenX}
          <YAxis {...yProps([-8.33, 7.58], [-5, 0, 5], hideAt([-5], fmtK))} />
          <CartesianGrid stroke={GRID} vertical={false} />
          {vGrid()}
          <Bar dataKey={(d: any) => [d.lo, d.hi]} barSize={13} isAnimationActive={false} shape={(p: any) => <Step {...p} />} />
          <ReferenceLine y={-5.271} stroke="none" ifOverflow="visible" label={valueBox('-5.271K', STEP_UP, 54)} />
        </ComposedChart>
        <Legend top={8}>
          <span>&lt;CoinGlass&gt; Net Longs (, open, No Filter, , )</span>
          <Val c={STEP_UP}>-5.325K</Val><Val c={STEP_UP}>-5.271K</Val><Val c={STEP_UP}>-5.325K</Val><Val c={STEP_UP}>-5.271K</Val>
        </Legend>
      </Pane>

      {/* net shorts */}
      <Pane top={781} height={107}>
        <ComposedChart width={CHART_W} height={107} data={shortRows} margin={{ top: 0, right: 0, bottom: 0, left: PLOT_L }}>
          {hiddenX}
          <YAxis {...yProps([12.457, 24.69], [16, 20, 24], hideAt([16], fmtK))} />
          <CartesianGrid stroke={GRID} vertical={false} />
          {vGrid()}
          <Bar dataKey={(d: any) => [d.lo, d.hi]} barSize={13} isAnimationActive={false} shape={(p: any) => <Step {...p} />} />
          <ReferenceLine y={15.51} stroke="none" ifOverflow="visible" label={valueBox('15.51K', STEP_UP, 48)} />
        </ComposedChart>
        <Legend top={8}>
          <span>&lt;CoinGlass&gt; Net Shorts (, open, No Filter, , )</span>
          <Val c={STEP_UP}>15.51K</Val><Val c={STEP_UP}>15.51K</Val><Val c={STEP_UP}>15.51K</Val><Val c={STEP_UP}>15.51K</Val>
        </Legend>
      </Pane>

      {/* premium */}
      <Pane top={888} height={PREM_H}>
        <ComposedChart width={CHART_W} height={PREM_H} data={premiumRows} margin={{ top: 0, right: 0, bottom: 0, left: PLOT_L }}>
          <defs>
            <linearGradient id="premGrad" gradientUnits="userSpaceOnUse" x1="0" y1="0" x2="0" y2={PREM_H}>
              <stop offset={PREM_ZERO} stopColor="#22ab94" />
              <stop offset={PREM_ZERO} stopColor="#e0264f" />
            </linearGradient>
          </defs>
          {hiddenX}
          <YAxis {...yProps(PREM_DOMAIN, [-0.1, 0], hideAt([0], (v) => v.toFixed(2)))} />
          <CartesianGrid stroke={GRID} vertical={false} />
          {vGrid()}
          <Line type="linear" dataKey="v" stroke="url(#premGrad)" strokeWidth={1.2} dot={false} isAnimationActive={false} />
          <ReferenceLine y={-0.01} stroke="none" ifOverflow="visible" label={valueBox('-0.01', BAR_DOWN, 42)} />
        </ComposedChart>
        <Legend top={9}>
          <span>&lt;CoinGlass&gt; Coinbase BTC Premium Index (Percent, , No Filter, , )</span>
          <Val c={BAR_DOWN}>-0.01</Val>
        </Legend>
      </Pane>

      {/* spot delta */}
      <Pane top={994} height={106}>
        <ComposedChart width={CHART_W} height={106} data={spotRows} margin={{ top: 0, right: 0, bottom: 0, left: PLOT_L }}>
          {hiddenX}
          <YAxis {...yProps([-1.645, 1.774], [-1, 0, 1], hideAt([0], fmtK))} />
          <CartesianGrid stroke={GRID} vertical={false} />
          {vGrid()}
          <Bar dataKey="v" barSize={7} isAnimationActive={false}>
            {spotRows.map((r, i) => <Cell key={i} fill={r.v >= 0 ? BAR_UP : BAR_DOWN} />)}
          </Bar>
          <ReferenceLine y={-0.157} stroke="none" ifOverflow="visible" label={valueBox('-157.12498882', BAR_DOWN, 91)} />
        </ComposedChart>
        <Legend top={9}>
          <span>&lt;CoinGlass&gt; Aggregated Spot Bid &amp; Ask Delta (1, Main chart symbol, Coins, , No Filter, , )</span>
          <Val c={BAR_DOWN}>-157.12498882</Val>
        </Legend>
      </Pane>

      {/* futures delta + time axis */}
      <Pane top={1100} height={133}>
        <ComposedChart width={CHART_W} height={133} data={futRows} margin={{ top: 0, right: 0, bottom: 0, left: PLOT_L }}>
          <XAxis type="number" dataKey="t" domain={X_DOMAIN} allowDataOverflow height={30} ticks={DAY_TICKS} interval={0}
            tickFormatter={(v: number) => DAY_LABELS[DAY_TICKS.indexOf(v)] ?? ''}
            axisLine={false} tickLine={false} tickMargin={4} tick={{ fill: TEXT, fontSize: 12.5, fontFamily: FONT }} />
          <YAxis {...yProps([-4.28, 5.3], [-4, 0, 4], hideAt([0], fmtK))} />
          <CartesianGrid stroke={GRID} vertical={false} />
          {vGrid()}
          <Bar dataKey="v" barSize={7} isAnimationActive={false}>
            {futRows.map((r, i) => <Cell key={i} fill={r.v >= 0 ? BAR_UP : BAR_DOWN} />)}
          </Bar>
          <ReferenceLine y={0.163} stroke="none" ifOverflow="visible" label={valueBox('162.8444', BAR_UP, 60, { fg: '#131722' })} />
        </ComposedChart>
        <Legend top={9}>
          <span>&lt;CoinGlass&gt; Aggregated Futures Bid &amp; Ask Delta (1, Main chart symbol, Coins, , No Filter, , )</span>
          <Val c={BAR_UP}>162.8444</Val>
        </Legend>
      </Pane>

      {SEPARATORS.map((y) => (
        <div key={y} style={{ position: 'absolute', left: 9, top: y, width: 2504, height: 1, background: SEP }} />
      ))}

      <svg width={140} height={30} style={{ position: 'absolute', left: 0, top: 1239 }}>
        <path d="M10 8 h8 v11 h-3.5 v-7.5 h-4.5 z" fill="#d1d4dc" />
        <circle cx={21.5} cy={10} r={1.8} fill="#d1d4dc" />
        <path d="M25 8 h4.5 l-4.5 11 h-4.2 z" fill="#d1d4dc" />
        <text x={32} y={18} fontSize={13} fontWeight={600} fontFamily={FONT} fill="#d1d4dc">TradingView</text>
      </svg>
    </div>
  );
}
